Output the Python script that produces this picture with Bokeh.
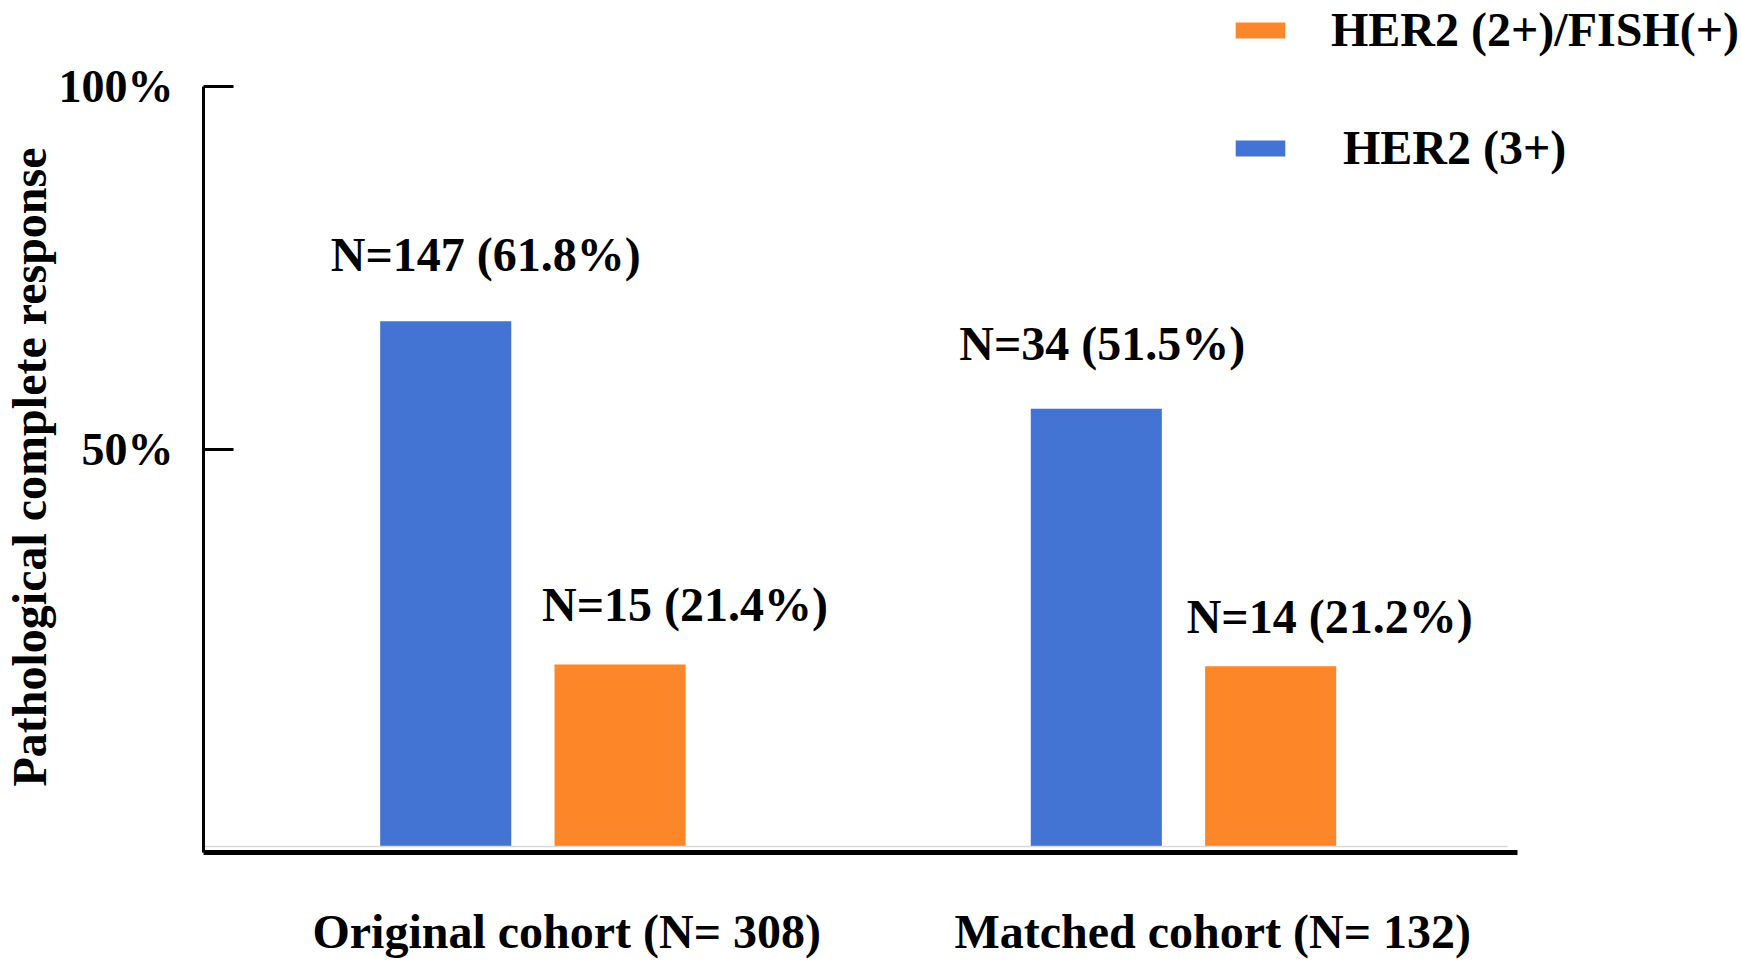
from bokeh.plotting import figure
from bokeh.models import (ColumnDataSource, Range1d, FixedTicker, Legend, LegendItem, Title)
from bokeh.transform import dodge
from bokeh.core.properties import value
from bokeh.embed import file_html
from bokeh.resources import INLINE

# ---------------- data ----------------
cohorts = ["Original cohort (N= 308)", "Matched cohort (N= 132)"]
cohort_index = [0, 1]
her2_3_pct = [61.8, 51.5]          # HER2 (3+)
her2_3_n = [147, 34]
her2_2fish_pct = [21.4, 21.2]      # HER2 (2+)/FISH(+)
her2_2fish_n = [15, 14]
series_names = ["HER2 (3+)", "HER2 (2+)/FISH(+)"]
y_tick_values = [46.75, 89.47]     # where the original draws its tick marks
y_tick_labels = ["50%", "100%"]

# ---------------- layout / style ----------------
BLUE = "#4374D3"
ORANGE = "#FD8628"
FONT = "Liberation Serif"
X_START, X_END, X_AXIS_END = -0.5063, 1.8577, 1.5134
Y_START, Y_END = -0.706, 99.53
x_label_pos = [0.052, 1.045]       # cohort labels sit a little right of the groups
dodge_amt = 0.134
bar_w = 0.2015
blue_label_dx = [40, 6]
orange_label_dx = [65, 59]
blue_label_dy = [-67, -65]
orange_label_dy = [-60, -50]

src = ColumnDataSource(dict(
    idx=cohort_index,
    blue=her2_3_pct,
    orange=her2_2fish_pct,
    blue_lbl=[f"N={n} ({v}%)" for n, v in zip(her2_3_n, her2_3_pct)],
    orange_lbl=[f"N={n} ({v}%)" for n, v in zip(her2_2fish_n, her2_2fish_pct)],
    bdx=blue_label_dx, odx=orange_label_dx, bdy=blue_label_dy, ody=orange_label_dy,
))

p = figure(width=1741, height=970, output_backend="svg", toolbar_location=None,
           x_range=Range1d(X_START, X_END), y_range=Range1d(Y_START, Y_END),
           min_border_left=203, min_border_right=0, min_border_top=0, min_border_bottom=118)
p.outline_line_color = None
p.grid.visible = False

rb = p.vbar(x=dodge("idx", -dodge_amt), top="blue", width=bar_w,
            source=src, fill_color=BLUE, line_color=None)
ro = p.vbar(x=dodge("idx", dodge_amt), top="orange", width=bar_w,
            source=src, fill_color=ORANGE, line_color=None)

# faint base line under the bars
p.segment(x0=[X_START], x1=[X_AXIS_END - 0.015], y0=[0], y1=[0],
          line_color="#d8d8d8", line_width=1.5)

p.text(x=dodge("idx", -dodge_amt), y="blue", text="blue_lbl",
       x_offset="bdx", y_offset="bdy", source=src, text_align="center",
       text_baseline="middle", text_font=value(FONT), text_font_style="bold",
       text_font_size="48px", text_color="black")
p.text(x=dodge("idx", dodge_amt), y="orange", text="orange_lbl",
       x_offset="odx", y_offset="ody", source=src, text_align="center",
       text_baseline="middle", text_font=value(FONT), text_font_style="bold",
       text_font_size="48px", text_color="black")

# y axis
ya = p.yaxis[0]
ya.ticker = FixedTicker(ticks=y_tick_values)
ya.major_label_overrides = {v: l for v, l in zip(y_tick_values, y_tick_labels)}
ya.bounds = (Y_START, y_tick_values[-1])
ya.axis_line_width = 3
ya.axis_line_color = "black"
ya.major_tick_in = 30
ya.major_tick_out = 0
ya.major_tick_line_width = 3
ya.minor_tick_line_color = None
ya.major_label_standoff = 30
ya.major_label_text_font = FONT
ya.major_label_text_font_style = "bold"
ya.major_label_text_font_size = "46px"
ya.major_label_text_color = "black"

ytitle = Title(text="Pathological complete response", align="left", offset=66,
               text_font=FONT, text_font_style="bold", text_font_size="48px",
               text_color="black", standoff=0)
p.add_layout(ytitle, "left")

# x axis
xa = p.xaxis[0]
xa.ticker = FixedTicker(ticks=x_label_pos)
xa.major_label_overrides = {v: c for v, c in zip(x_label_pos, cohorts)}
xa.bounds = (X_START, X_AXIS_END)
xa.axis_line_width = 5
xa.axis_line_color = "black"
xa.major_tick_in = 0
xa.major_tick_out = 0
xa.minor_tick_line_color = None
xa.major_label_standoff = 52
xa.major_label_text_font = FONT
xa.major_label_text_font_style = "bold"
xa.major_label_text_font_size = "48px"
xa.major_label_text_color = "black"

# legend
legend = Legend(items=[LegendItem(label=series_names[1], renderers=[ro]),
                       LegendItem(label=" " + series_names[0], renderers=[rb])],
                location=(1026, 677), orientation="vertical",
                glyph_width=62, glyph_height=20, label_standoff=40,
                label_text_font=FONT, label_text_font_style="bold",
                label_text_font_size="48px", label_text_color="black",
                spacing=63, padding=0, margin=0, border_line_color=None,
                background_fill_alpha=0)
p.add_layout(legend, "center")

open("out.html", "w").write(file_html(p, INLINE))
